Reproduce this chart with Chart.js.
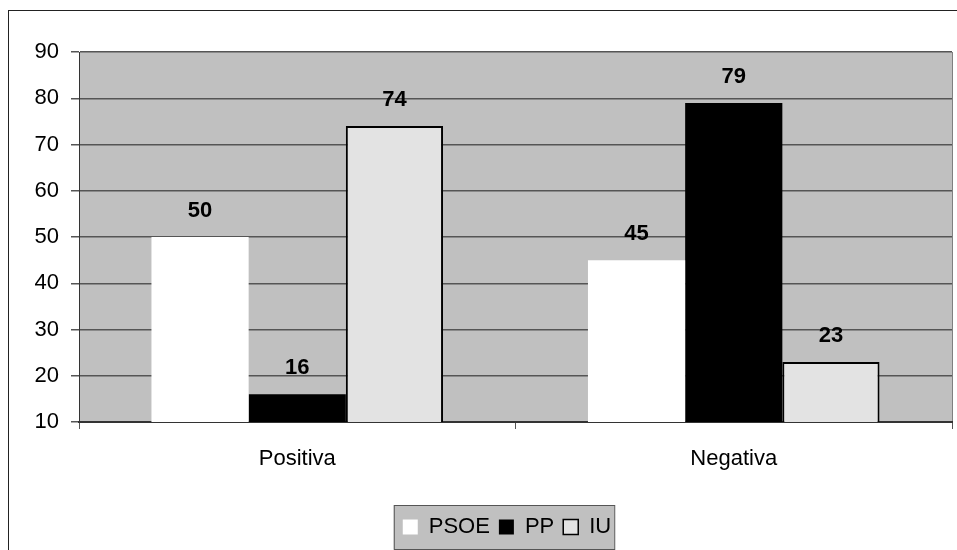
<!DOCTYPE html>
<html>
<head>
<meta charset="utf-8">
<script src="https://cdn.jsdelivr.net/npm/chart.js@4/dist/chart.umd.min.js"></script>
<style>
  body { margin: 0; background: #fff; }
  #wrap { position: relative; width: 957px; height: 550px; }
  #frame { position: absolute; left: 8px; top: 10px; width: 960px; height: 560px;
           border-left: 1px solid #222; border-top: 1px solid #222; }
  canvas { position: absolute; left: 0; top: 0; }
</style>
</head>
<body>
<div id="wrap">
  <div id="frame"></div>
  <canvas id="grafica" width="957" height="550"></canvas>
</div>
<script>
var categorias = ['Positiva', 'Negativa'];
var psoe = [50, 45];
var pp = [16, 79];
var iu = [74, 23];
var ticks_y = [10, 20, 30, 40, 50, 60, 70, 80, 90];

var fondo = {
  id: 'fondo',
  beforeDraw: function(chart){
    var c = chart.ctx, a = chart.chartArea;
    // mover la leyenda un poco a la derecha
    var ley = chart.legend;
    var d = 507 - (ley.left + ley.right) / 2;
    if (Math.abs(d) > 0.5){
      ley.left += d; ley.right += d;
      ley.legendHitBoxes.forEach(function(h){ h.left += d; });
    }
    c.save();
    c.fillStyle = '#c0c0c0';
    c.fillRect(a.left, a.top, a.right - a.left, a.bottom - a.top);
    c.strokeStyle = '#808080';
    c.lineWidth = 1;
    c.beginPath();
    c.moveTo(a.right + 0.5, a.top);
    c.lineTo(a.right + 0.5, a.bottom);
    c.stroke();
    // caja de la leyenda
    var cajas = ley.legendHitBoxes;
    if (cajas && cajas.length){
      var x0 = cajas[0].left - 9;
      var ult = cajas[cajas.length - 1];
      var x1 = ult.left + ult.width + 3;
      var y0 = cajas[0].top - 11;
      var y1 = cajas[0].top + cajas[0].height + 11;
      c.fillStyle = '#c0c0c0';
      c.fillRect(x0, y0, x1 - x0, y1 - y0);
      c.strokeStyle = '#555';
      c.strokeRect(x0 + 0.5, y0 + 0.5, x1 - x0, y1 - y0);
    }
    c.restore();
  }
};

var etiquetas = {
  id: 'etiquetas',
  afterDatasetsDraw: function(chart){
    var c = chart.ctx;
    c.save();
    c.font = 'bold 22px Arial, "Liberation Sans"';
    c.fillStyle = '#000';
    c.textAlign = 'center';
    c.textBaseline = 'middle';
    chart.data.datasets.forEach(function(ds, i){
      chart.getDatasetMeta(i).data.forEach(function(bar, j){
        c.fillText(ds.data[j], bar.x, bar.y - 26);
      });
    });
    c.restore();
  }
};

var chartdata = {
  labels: categorias,
  datasets: [
    { label: 'PSOE', data: psoe, backgroundColor: '#ffffff', borderColor: '#ffffff', borderWidth: 0 },
    { label: 'PP', data: pp, backgroundColor: '#000000', borderColor: '#000000', borderWidth: 0 },
    { label: 'IU', data: iu, backgroundColor: '#e3e3e3', borderColor: '#000000', borderWidth: 2 }
  ]
};

var ctx = document.getElementById('grafica');
var barGraph = new Chart(ctx, {
  type: 'bar',
  data: chartdata,
  plugins: [fondo, etiquetas],
  options: {
    responsive: false,
    animation: false,
    layout: { padding: { left: 0, right: 5, top: 52, bottom: 2 } },
    datasets: { bar: { barPercentage: 1, categoryPercentage: 0.668 } },
    plugins: {
      tooltip: { enabled: false },
      legend: {
        position: 'bottom',
        labels: {
          font: { family: 'Arial, "Liberation Sans"', size: 22 },
          color: '#000',
          boxWidth: 15,
          boxHeight: 15,
          padding: 9,
          generateLabels: function(chart){
            return chart.data.datasets.map(function(ds, i){
              return {
                text: ds.label,
                fillStyle: ds.backgroundColor,
                strokeStyle: i === 2 ? '#000' : ds.backgroundColor,
                lineWidth: i === 2 ? 1.5 : 0,
                datasetIndex: i,
                fontColor: '#000'
              };
            });
          }
        }
      }
    },
    scales: {
      x: {
        grid: { drawOnChartArea: false, drawTicks: true, tickLength: 7, color: '#555', offset: true },
        border: { color: '#333', width: 2 },
        ticks: { font: { family: 'Arial, "Liberation Sans"', size: 22 }, color: '#000', padding: 17 },
        afterFit: function(s){ s.height = 85; }
      },
      y: {
        min: 10, max: 90,
        afterBuildTicks: function(s){ s.ticks = ticks_y.map(function(v){ return { value: v }; }); },
        grid: { color: '#555', lineWidth: 1.5, tickLength: 8 },
        border: { color: '#333', width: 1 },
        ticks: { font: { family: 'Arial, "Liberation Sans"', size: 22 }, color: '#000', padding: 12 },
        afterFit: function(s){ s.width = 79; }
      }
    }
  }
});
</script>
</body>
</html>
